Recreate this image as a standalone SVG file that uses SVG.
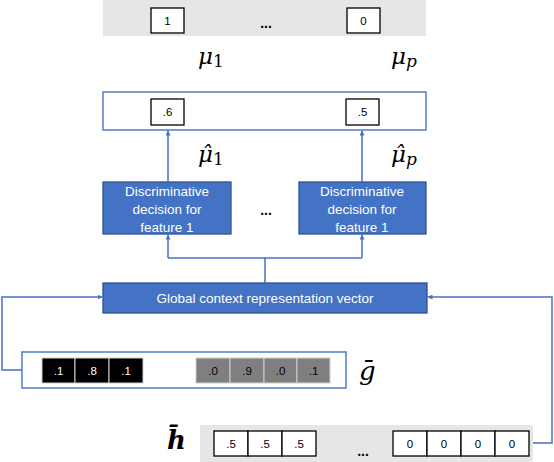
<svg xmlns="http://www.w3.org/2000/svg" width="554" height="462" viewBox="0 0 554 462">
<style>
.bar{fill:#e7e6e6}
.cell{fill:#fff;stroke:#000;stroke-width:1.3}
.num{font-family:"Liberation Sans",Arial,sans-serif;font-size:11.5px;fill:#000;text-anchor:middle}
.wnum{font-family:"Liberation Sans",Arial,sans-serif;font-size:11.5px;fill:#fff;text-anchor:middle}
.blk{fill:#000;stroke:#d0d0d0;stroke-width:1}
.gry{fill:#7f7f7f;stroke:#d0d0d0;stroke-width:1}
.frame{fill:#fff;stroke:#4472c4;stroke-width:1.4}
.node{fill:#4472c4;stroke:#2f528f;stroke-width:1.3}
.ntext{font-family:"Liberation Sans",Arial,sans-serif;font-size:13.5px;fill:#fff;text-anchor:middle}
.dots{font-family:"Liberation Sans",Arial,sans-serif;font-size:14px;font-weight:bold;fill:#000;text-anchor:middle}
.math{font-family:"DejaVu Serif","Liberation Serif",serif;font-style:italic;fill:#000}
.conn{fill:none;stroke:#4472c4;stroke-width:1.5}
</style>
<defs>
<marker id="ah" viewBox="0 0 10 10" refX="10" refY="5" markerWidth="5" markerHeight="5" orient="auto" markerUnits="userSpaceOnUse">
<path d="M0,0 L10,5 L0,10 z" fill="#4472c4"/>
</marker>
</defs>

<g id="mu-bar">
<rect class="bar" x="103" y="0" width="323" height="36"/>
<rect class="cell" x="151" y="8" width="33" height="25"/>
<text class="num" x="167.5" y="25">1</text>
<text class="dots" x="266" y="28">...</text>
<rect class="cell" x="347" y="8" width="33" height="25"/>
<text class="num" x="363.5" y="25">0</text>
</g>

<g id="mu-labels">
<text class="math" x="198" y="64" font-size="23">μ<tspan font-style="normal" font-size="17" dy="3">1</tspan></text>
<text class="math" x="391" y="64" font-size="23">μ<tspan font-size="17" dy="3">p</tspan></text>
</g>

<g id="muhat-bar">
<rect class="frame" x="103" y="92" width="323" height="38"/>
<rect class="cell" x="151" y="99" width="33" height="26"/>
<text class="num" x="167.5" y="116">.6</text>
<rect class="cell" x="346" y="99" width="33" height="26"/>
<text class="num" x="362.5" y="116">.5</text>
</g>

<g id="muhat-labels">
<text class="math" x="198" y="162" font-size="23">μ̂<tspan font-style="normal" font-size="17" dy="3">1</tspan></text>
<text class="math" x="391" y="162" font-size="23">μ̂<tspan font-size="17" dy="3">p</tspan></text>
</g>

<g id="disc1">
<rect class="node" x="103" y="182" width="128" height="52"/>
<text class="ntext" x="167" y="196">Discriminative</text>
<text class="ntext" x="167" y="214">decision for</text>
<text class="ntext" x="167" y="232">feature 1</text>
</g>

<g id="disc-dots">
<text class="dots" x="266" y="215">...</text>
</g>

<g id="disc2">
<rect class="node" x="299" y="182" width="127" height="52"/>
<text class="ntext" x="362" y="196">Discriminative</text>
<text class="ntext" x="362" y="214">decision for</text>
<text class="ntext" x="362" y="232">feature 1</text>
</g>

<g id="global">
<rect class="node" x="103" y="283" width="324" height="30"/>
<text class="ntext" x="265" y="303">Global context representation vector</text>
</g>

<g id="g-bar">
<rect class="frame" x="22" y="352" width="324" height="36"/>
<rect class="blk" x="42" y="358" width="33" height="25"/>
<rect class="blk" x="75" y="358" width="34" height="25"/>
<rect class="blk" x="109" y="358" width="34" height="25"/>
<text class="wnum" x="58.5" y="375">.1</text>
<text class="wnum" x="92" y="375">.8</text>
<text class="wnum" x="126" y="375">.1</text>
<rect class="gry" x="196" y="358" width="34" height="25"/>
<rect class="gry" x="230" y="358" width="34" height="25"/>
<rect class="gry" x="264" y="358" width="33" height="25"/>
<rect class="gry" x="297" y="358" width="33" height="25"/>
<text class="wnum" x="213" y="375" style="fill:#000">.0</text>
<text class="wnum" x="247" y="375" style="fill:#000">.9</text>
<text class="wnum" x="280.5" y="375" style="fill:#000">.0</text>
<text class="wnum" x="313.5" y="375" style="fill:#000">.1</text>
</g>

<g id="g-label">
<text class="math" x="359" y="380" font-size="26">ḡ</text>
</g>

<g id="h-bar">
<rect class="bar" x="200" y="425" width="333" height="37"/>
<rect class="cell" x="214" y="431" width="34" height="25"/>
<rect class="cell" x="248" y="431" width="34" height="25"/>
<rect class="cell" x="282" y="431" width="34" height="25"/>
<text class="num" x="231" y="448">.5</text>
<text class="num" x="265" y="448">.5</text>
<text class="num" x="299" y="448">.5</text>
<text class="dots" x="363" y="456">...</text>
<rect class="cell" x="393" y="431" width="34" height="25"/>
<rect class="cell" x="427" y="431" width="34" height="25"/>
<rect class="cell" x="461" y="431" width="34" height="25"/>
<rect class="cell" x="495" y="431" width="34" height="25"/>
<text class="num" x="410" y="448">0</text>
<text class="num" x="444" y="448">0</text>
<text class="num" x="478" y="448">0</text>
<text class="num" x="512" y="448">0</text>
</g>

<g id="h-label">
<text class="math" x="167" y="449" font-size="26" font-weight="bold">h̄</text>
</g>

<g id="connectors">
<path class="conn" d="M168,182 V130.5" marker-end="url(#ah)"/>
<path class="conn" d="M362,182 V130.5" marker-end="url(#ah)"/>
<path class="conn" d="M265,283 V258"/>
<path class="conn" d="M168,258 H362"/>
<path class="conn" d="M168,258 V234.5" marker-end="url(#ah)"/>
<path class="conn" d="M362,258 V234.5" marker-end="url(#ah)"/>
<path class="conn" d="M22,370 H2 V297 H102.5" marker-end="url(#ah)"/>
<path class="conn" d="M533,443 H552 V297 H427.5" marker-end="url(#ah)"/>
</g>
</svg>
